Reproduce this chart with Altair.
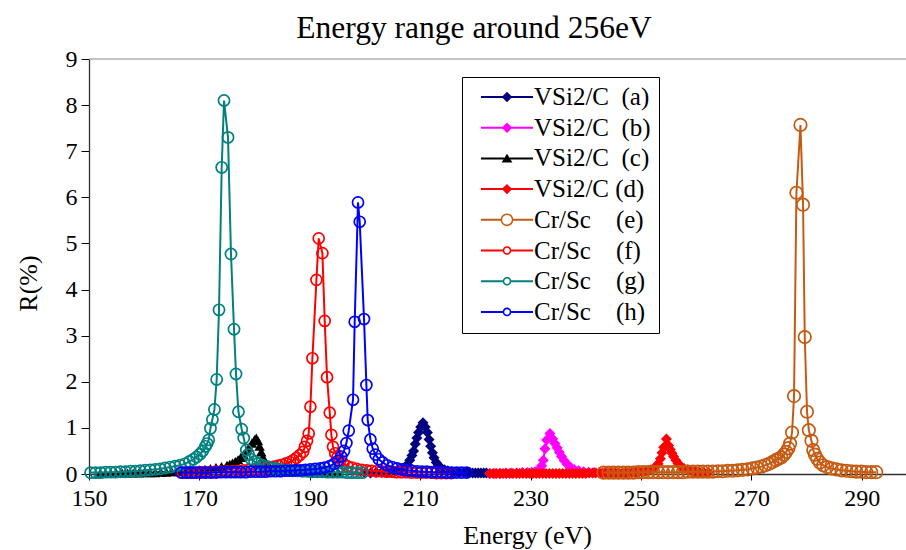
import altair as alt
import pandas as pd

# ---------------- text & ticks ----------------
title_text = "Energy range around 256eV"
x_title = "Energy (eV)"
y_title = "R(%)"
x_ticks = [150, 170, 190, 210, 230, 250, 270, 290]
y_ticks = [0, 1, 2, 3, 4, 5, 6, 7, 8, 9]
x_domain = [150, 298]
y_domain = [0, 9]

NB = "\u00a0"
labels = [
    "VSi2/C" + NB * 2 + "(a)",
    "VSi2/C" + NB * 2 + "(b)",
    "VSi2/C" + NB * 2 + "(c)",
    "VSi2/C" + NB + "(d)",
    "Cr/Sc" + NB * 4 + "(e)",
    "Cr/Sc" + NB * 4 + "(f)",
    "Cr/Sc" + NB * 4 + "(g)",
    "Cr/Sc" + NB * 4 + "(h)",
]

# ---------------- data ----------------
a_x = [200.0, 201.0, 202.0, 203.0, 204.0, 204.8, 205.5, 206.1, 206.7, 207.2, 207.7, 208.1, 208.5, 208.8,
       209.1, 209.4, 209.7, 210.1, 210.5, 210.9, 211.3, 211.6, 211.9, 212.2, 212.5, 212.9, 213.3, 213.8,
       214.4, 215.0, 215.7, 216.4, 217.1, 217.8, 218.5, 219.0, 219.5, 220.0, 220.5, 221.0, 221.5, 222.0]
a_y = [0.02, 0.02, 0.03, 0.03, 0.04, 0.05, 0.06, 0.08, 0.11, 0.15, 0.20, 0.30, 0.40, 0.50,
       0.65, 0.78, 0.90, 1.02, 1.11, 1.02, 0.90, 0.75, 0.60, 0.46, 0.35, 0.25, 0.18, 0.13,
       0.09, 0.07, 0.05, 0.04, 0.04, 0.03, 0.03, 0.03, 0.02, 0.02, 0.02, 0.02, 0.02, 0.02]

b_x = [222.6, 223.5, 224.5, 225.5, 226.5, 227.5, 228.5, 229.4, 230.2, 230.8, 231.3, 231.7, 232.0, 232.3,
       232.6, 232.9, 233.5, 234.0, 234.4, 234.8, 235.2, 235.6, 236.1, 236.6, 237.2, 237.9, 238.7, 239.6,
       240.5, 241.5, 242.5, 243.5, 244.5]
b_y = [0.01, 0.01, 0.01, 0.02, 0.02, 0.02, 0.03, 0.03, 0.04, 0.05, 0.07, 0.11, 0.18, 0.30,
       0.55, 0.74, 0.88, 0.76, 0.66, 0.57, 0.47, 0.38, 0.29, 0.21, 0.15, 0.10, 0.07, 0.05,
       0.04, 0.03, 0.02, 0.02, 0.02]

c_x = [152.0, 153.0, 154.0, 155.0, 156.0, 157.0, 158.0, 159.0, 160.0, 161.0, 162.0, 163.0, 164.0, 165.0,
       166.0, 167.0, 168.0, 169.0, 170.0, 171.0, 172.0, 173.0, 174.0, 175.0, 175.5, 176.0, 176.5, 177.0,
       177.5, 178.0, 178.5, 179.0, 179.5, 180.0, 180.3, 180.6, 180.9, 181.2, 181.5, 181.8, 182.2, 182.7,
       183.2, 183.8, 184.5, 185.3, 186.2, 187.2, 188.2, 189.2, 190.2, 191.2, 192.2, 193.2, 194.2, 195.2]
c_y = [0.01, 0.01, 0.01, 0.01, 0.02, 0.02, 0.02, 0.02, 0.03, 0.03, 0.03, 0.04, 0.04, 0.05,
       0.05, 0.06, 0.07, 0.08, 0.09, 0.10, 0.12, 0.14, 0.16, 0.19, 0.21, 0.24, 0.27, 0.31,
       0.36, 0.42, 0.50, 0.58, 0.67, 0.75, 0.78, 0.72, 0.60, 0.48, 0.37, 0.28, 0.21, 0.16,
       0.13, 0.10, 0.08, 0.07, 0.06, 0.05, 0.04, 0.04, 0.03, 0.03, 0.03, 0.02, 0.02, 0.02]

d_x = [222.6, 223.2, 223.8, 224.4, 225.0, 225.6, 226.2, 226.8, 227.4, 228.0, 228.6, 229.2, 229.8, 230.4,
       231.0, 231.6, 232.2, 232.8, 233.4, 234.0, 234.6, 235.2, 235.8, 236.4, 237.0, 237.6, 238.2, 238.8,
       239.4, 240.0, 240.6, 241.2, 241.8, 242.4, 243.0, 243.6, 244.2, 244.8, 245.4, 246.0, 246.6, 247.2,
       247.8, 248.4, 249.0, 249.6, 250.2, 250.8, 251.3, 251.8, 252.3, 252.7, 253.1, 253.5, 253.8, 254.1,
       254.6, 255.0, 255.3, 255.6, 255.9, 256.3, 256.7, 257.2, 257.8, 258.4, 259.1, 259.8, 260.6, 261.4,
       262.2]
d_y = [0.01, 0.01, 0.01, 0.01, 0.01, 0.01, 0.01, 0.01, 0.01, 0.01, 0.01, 0.01, 0.01, 0.01,
       0.01, 0.01, 0.01, 0.01, 0.01, 0.01, 0.01, 0.01, 0.01, 0.01, 0.01, 0.01, 0.01, 0.01,
       0.01, 0.01, 0.02, 0.02, 0.02, 0.02, 0.02, 0.02, 0.02, 0.02, 0.02, 0.02, 0.02, 0.02,
       0.03, 0.03, 0.03, 0.04, 0.05, 0.06, 0.07, 0.09, 0.12, 0.16, 0.22, 0.33, 0.46, 0.58,
       0.76, 0.62, 0.53, 0.45, 0.38, 0.30, 0.23, 0.17, 0.12, 0.09, 0.07, 0.05, 0.04, 0.03,
       0.03]

e_x = [243.2, 244.1, 245.0, 245.9, 246.8, 247.7, 248.6, 249.5, 250.4, 251.3, 252.2, 253.1, 254.0, 254.9,
       255.8, 256.7, 257.6, 258.5, 259.4, 260.3, 261.2, 262.1, 263.0, 263.9, 264.8, 265.7, 266.6, 267.5,
       268.4, 269.3, 270.2, 271.0, 271.8, 272.5, 273.2, 273.8, 274.4, 274.9, 275.4, 275.9, 276.3, 276.7,
       277.0, 277.36, 277.72, 278.15, 278.88, 279.35, 279.66, 280.07, 280.4, 280.87, 281.2, 281.5, 281.9,
       282.4, 283.0, 283.7, 284.5, 285.4, 286.3, 287.2, 288.1, 289.0, 289.9, 290.8, 291.7, 292.6]
e_y = [0.03, 0.03, 0.03, 0.03, 0.03, 0.03, 0.03, 0.04, 0.04, 0.04, 0.04, 0.04, 0.04, 0.04,
       0.04, 0.04, 0.04, 0.05, 0.05, 0.05, 0.05, 0.05, 0.05, 0.06, 0.06, 0.07, 0.07, 0.08,
       0.09, 0.10, 0.12, 0.14, 0.16, 0.19, 0.22, 0.26, 0.30, 0.33, 0.36, 0.42, 0.48, 0.56,
       0.66, 0.90, 1.69, 6.10, 7.57, 5.84, 2.97, 1.35, 0.95, 0.72, 0.52, 0.42, 0.33,
       0.25, 0.19, 0.15, 0.12, 0.10, 0.08, 0.07, 0.06, 0.05, 0.05, 0.04, 0.04, 0.04]

f_x = [167.0, 168.0, 169.0, 170.0, 171.0, 172.0, 173.0, 174.0, 175.0, 176.0, 177.0, 178.0, 179.0, 180.0,
       180.9, 181.8, 182.7, 183.5, 184.3, 185.0, 185.7, 186.4, 187.0, 187.6, 188.2, 188.8, 189.1, 189.5,
       189.8, 190.11, 190.47, 191.2, 191.61, 192.28, 192.7, 193.12, 193.61, 193.91, 194.2, 194.6, 195.0,
       195.5, 196.1, 196.8, 197.6, 198.5, 199.4, 200.3, 201.2, 202.1, 203.0, 203.9, 204.8, 205.7, 206.6,
       207.5, 208.4, 209.3, 210.2, 211.1, 212.0, 212.9, 213.8, 214.7, 215.6]
f_y = [0.03, 0.03, 0.03, 0.04, 0.04, 0.04, 0.05, 0.05, 0.06, 0.06, 0.07, 0.08, 0.09, 0.10,
       0.11, 0.12, 0.14, 0.16, 0.18, 0.20, 0.23, 0.26, 0.30, 0.35, 0.41, 0.48, 0.59, 0.72,
       0.88, 1.46, 2.51, 4.21, 5.11, 4.79, 3.32, 2.10, 1.33, 0.85, 0.59, 0.45, 0.36,
       0.28, 0.22, 0.17, 0.14, 0.11, 0.09, 0.08, 0.07, 0.06, 0.06, 0.05, 0.05, 0.04, 0.04,
       0.04, 0.03, 0.03, 0.03, 0.03, 0.03, 0.02, 0.02, 0.02, 0.02]

g_x = [150.3, 151.2, 152.1, 153.0, 153.9, 154.8, 155.7, 156.6, 157.5, 158.4, 159.3, 160.2, 161.1, 162.0,
       162.9, 163.8, 164.7, 165.6, 166.5, 167.4, 168.2, 168.9, 169.5, 170.1, 170.6, 171.1, 171.4, 171.68,
       172.0, 172.35, 172.72, 173.13, 173.55, 174.04, 174.46, 175.18, 175.72, 176.27, 176.63, 177.07,
       177.66, 178.03, 178.5, 178.9, 179.4, 180.0, 180.6, 181.4, 182.4, 183.3, 184.2, 185.1, 186.0, 186.9,
       187.8, 188.7, 189.6, 190.5, 191.4, 192.3, 193.2, 194.1, 195.0, 195.9, 196.8, 197.7, 198.6, 199.5]
g_y = [0.03, 0.03, 0.03, 0.04, 0.04, 0.04, 0.05, 0.05, 0.06, 0.06, 0.07, 0.08, 0.09, 0.10,
       0.11, 0.13, 0.15, 0.17, 0.19, 0.22, 0.27, 0.32, 0.37, 0.43, 0.50, 0.60, 0.66, 0.74,
       0.99, 1.18, 1.40, 2.05, 3.56, 6.65, 8.10, 7.30, 4.77, 3.14, 2.17, 1.35,
       0.97, 0.78, 0.52, 0.42, 0.32, 0.27, 0.23, 0.19, 0.16, 0.13, 0.11, 0.09, 0.08, 0.07,
       0.07, 0.06, 0.06, 0.05, 0.05, 0.05, 0.04, 0.04, 0.04, 0.04, 0.03, 0.03, 0.03, 0.03]

h_x = [166.7, 167.6, 168.5, 169.4, 170.3, 171.2, 172.1, 173.0, 173.9, 174.8, 175.7, 176.6, 177.5, 178.4,
       179.3, 180.2, 181.1, 182.0, 182.9, 183.8, 184.7, 185.6, 186.5, 187.4, 188.3, 189.2, 190.1, 191.0,
       191.9, 192.7, 193.6, 194.4, 195.1, 195.7, 196.2, 196.63, 197.05, 197.83, 198.13, 198.73, 199.04,
       199.82, 200.25, 200.49, 200.98, 201.4, 201.9, 202.5, 203.2, 204.0, 204.9, 205.8, 206.7, 207.6,
       208.5, 209.4, 210.3, 211.2, 212.1, 213.0, 213.9, 214.8, 215.7, 216.6, 217.5, 218.4]
h_y = [0.03, 0.03, 0.03, 0.03, 0.03, 0.03, 0.03, 0.03, 0.04, 0.04, 0.04, 0.04, 0.04, 0.04,
       0.05, 0.05, 0.05, 0.05, 0.06, 0.06, 0.06, 0.07, 0.07, 0.08, 0.08, 0.09, 0.10, 0.11,
       0.12, 0.14, 0.17, 0.22, 0.29, 0.38, 0.50, 0.67, 0.94, 1.61, 3.30, 5.89, 5.47,
       3.36, 1.93, 1.17, 0.75, 0.55, 0.42, 0.32, 0.25, 0.19, 0.15, 0.12, 0.10, 0.08,
       0.07, 0.06, 0.05, 0.05, 0.04, 0.04, 0.04, 0.03, 0.03, 0.03, 0.03, 0.03]

series_x = [a_x, b_x, c_x, d_x, e_x, f_x, g_x, h_x]
series_y = [a_y, b_y, c_y, d_y, e_y, f_y, g_y, h_y]

# ---------------- styles ----------------
colors = ["#000080", "#FF00FF", "#000000", "#FF0000", "#C55A11", "#FF0000", "#008080", "#0000FF"]
markers = ["diamond", "diamond", "triangle-up", "diamond", "circle", "circle", "circle", "circle"]
marker_sizes = [121, 121, 110, 121, 156, 121, 125, 121]
SERIF = "Liberation Serif"

# legend symbols: line + marker drawn as one filled path (units: 1 = 5.5 px)
line_l = "M -4.73 -0.18 L {a} -0.18 L {a} 0.18 L -4.73 0.18 Z M {b} -0.18 L 4.73 -0.18 L 4.73 0.18 L {b} 0.18 Z "
def ring(R, r):
    return (f"M {R} 0 A {R} {R} 0 1 1 -{R} 0 A {R} {R} 0 1 1 {R} 0 Z "
            f"M {r} 0 A {r} {r} 0 1 0 -{r} 0 A {r} {r} 0 1 0 {r} 0 Z")
p_diamond = line_l.format(a=-0.75, b=0.75) + "M 0 -0.95 L 0.95 0 L 0 0.95 L -0.95 0 Z"
p_triangle = line_l.format(a=-0.5, b=0.5) + "M 0 -0.85 L 0.98 0.75 L -0.98 0.75 Z"
p_ring_big = line_l.format(a=-1.1, b=1.1) + ring(1.15, 0.87)
p_ring = line_l.format(a=-0.75, b=0.75) + ring(0.78, 0.5)
legend_paths = [p_diamond, p_diamond, p_triangle, p_diamond, p_ring_big, p_ring, p_ring, p_ring]

# ---------------- encodings ----------------
x_axis = alt.Axis(values=x_ticks, title=x_title, grid=False, tickSize=6, tickColor="black",
                  domainColor="#303030", domainWidth=1.3, labelFont=SERIF, labelFontSize=24,
                  labelColor="black", labelPadding=6, labelFlush=False, labelOverlap=False,
                  titleFont=SERIF, titleFontSize=26, titleFontWeight="normal", titleColor="black",
                  titleX=438, titleY=69, titleBaseline="alphabetic")
y_axis = alt.Axis(values=y_ticks, title=y_title, grid=False, tickSize=8, tickColor="black",
                  domainColor="#303030", domainWidth=1.3, labelFont=SERIF, labelFontSize=24,
                  labelColor="black", labelPadding=4,
                  titleFont=SERIF, titleFontSize=26, titleFontWeight="normal", titleColor="black",
                  titleX=-53, titleY=224, titleBaseline="alphabetic", titleAngle=-90)
X = alt.X("x:Q", scale=alt.Scale(domain=x_domain, nice=False, zero=False), axis=x_axis)
Y = alt.Y("y:Q", scale=alt.Scale(domain=y_domain, nice=False, zero=False), axis=y_axis)

# ---------------- layers ----------------
frames = []
for i in range(len(labels)):
    frames.append(pd.DataFrame({"series": labels[i], "x": series_x[i], "y": series_y[i]}))
all_df = pd.concat(frames, ignore_index=True)

leg = alt.Legend(title=None, orient="none", legendX=373, legendY=18, fillColor="white",
                 strokeColor="black", padding=7.5, rowPadding=4.7, symbolSize=121,
                 symbolStrokeWidth=0, symbolOffset=25, labelOffset=14.5, labelFont=SERIF,
                 labelFontSize=25, labelColor="black", symbolOpacity=1, labelLimit=400)

legend_layer = alt.Chart(all_df).mark_point(filled=True, opacity=0).encode(
    x=X, y=Y,
    color=alt.Color("series:N", scale=alt.Scale(domain=labels, range=colors), legend=leg),
    shape=alt.Shape("series:N", scale=alt.Scale(domain=labels, range=legend_paths), legend=leg),
)

top_border = alt.Chart(pd.DataFrame({"y": [y_domain[1]]})).mark_rule(
    color="#8a8a8a", strokeWidth=1).encode(y=Y)

layers = [legend_layer, top_border]
for i in range(len(labels)):
    base = alt.Chart(frames[i])
    line = base.mark_line(color=colors[i], strokeWidth=2).encode(x=X, y=Y)
    if markers[i] == "circle":
        pts = base.mark_point(shape="circle", filled=False, color=colors[i], size=marker_sizes[i],
                              strokeWidth=1.7, opacity=1)
    else:
        pts = base.mark_point(shape=markers[i], filled=True, color=colors[i], size=marker_sizes[i],
                              opacity=1, strokeWidth=0)
    layers += [line, pts.encode(x=X, y=Y)]

chart = alt.layer(*layers).properties(
    width=817, height=415,
    title=alt.TitleParams(text=title_text, font=SERIF, fontSize=31.5, fontWeight="normal",
                          color="black", anchor="middle", dx=-23.5, offset=3),
    padding={"left": 89, "top": 59, "right": 0, "bottom": 76},
    autosize=alt.AutoSizeParams(type="none"),
).configure_view(stroke=None)

chart.save("out.html", embed_options={"renderer": "svg", "actions": False})
